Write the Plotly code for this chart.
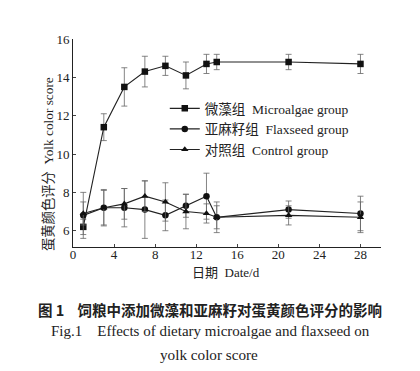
import plotly.graph_objects as go

days = [1, 3, 5, 7, 9, 11, 13, 14, 21, 28]

microalgae = [6.2, 11.4, 13.5, 14.3, 14.6, 14.1, 14.7, 14.8, 14.8, 14.7]
microalgae_err = [0.4, 0.7, 1.0, 0.8, 0.5, 0.7, 0.5, 0.4, 0.4, 0.5]

flaxseed = [6.8, 7.2, 7.2, 7.1, 6.8, 7.3, 7.8, 6.7, 7.1, 6.9]
flaxseed_err = [1.2, 0.95, 1.0, 1.5, 0.8, 0.6, 1.2, 0.6, 0.45, 0.9]

control = [6.9, 7.2, 7.4, 7.8, 7.5, 7.0, 6.9, 6.7, 6.8, 6.7]
control_err = [0.6, 0.9, 0.8, 0.8, 1.0, 0.9, 0.5, 0.8, 0.5, 0.8]

names = ["微藻组  Microalgae group", "亚麻籽组  Flaxseed group", "对照组  Control group"]
symbols = ["square", "circle", "triangle-up"]

x_ticks = [0, 4, 8, 12, 16, 20, 24, 28]
y_ticks = [6, 8, 10, 12, 14, 16]

FONT = "Liberation Serif, Noto Sans CJK SC, serif"

fig = go.Figure()
for vals, errs, name, sym in zip([microalgae, flaxseed, control],
                                 [microalgae_err, flaxseed_err, control_err],
                                 names, symbols):
    fig.add_trace(go.Scatter(
        x=days, y=vals, name=name, mode="lines+markers",
        line=dict(color="#222222", width=1.1),
        marker=dict(symbol=sym, size=6.5, color="#111111"),
        error_y=dict(type="data", array=errs, visible=True,
                     color="#666666", thickness=0.8, width=3),
    ))

fig.update_layout(
    width=420, height=371,
    margin=dict(l=65, r=47, t=31, b=132),
    paper_bgcolor="white", plot_bgcolor="white",
    font=dict(family=FONT, size=13, color="#222222"),
    showlegend=True,
    legend=dict(x=0.298, y=0.74, xanchor="left", yanchor="top",
                bgcolor="rgba(0,0,0,0)", font=dict(size=13.5, family=FONT),
                itemwidth=30, tracegroupgap=0),
    xaxis=dict(range=[0, 30], tickvals=x_ticks, ticks="inside", ticklen=3,
               ticklabelstandoff=-5,
               showline=True, linecolor="#222222", linewidth=1, showgrid=False,
               zeroline=False, tickfont=dict(size=13, family=FONT)),
    yaxis=dict(range=[5.15, 16], tickvals=y_ticks, ticks="inside", ticklen=3,
               showline=True, linecolor="#222222", linewidth=1, showgrid=False,
               zeroline=False, tickfont=dict(size=13, family=FONT)),
)

def py(p):
    return (239 - p) / 208.0

fig.add_annotation(text="日期  Date/d",
                   xref="paper", yref="paper", x=(218 - 65) / 308.0, y=py(264),
                   xanchor="center", yanchor="middle", showarrow=False,
                   font=dict(size=13, family=FONT))
fig.add_annotation(text="蛋黄颜色评分  Yolk color score", textangle=-90,
                   xref="paper", yref="paper", x=(40 - 65) / 308.0, y=py(156),
                   xanchor="center", yanchor="middle", showarrow=False,
                   font=dict(size=13.3, family=FONT))
fig.add_annotation(text="<b>图 1    饲粮中添加微藻和亚麻籽对蛋黄颜色评分的影响</b>",
                   xref="paper", yref="paper", x=(202 - 65) / 308.0, y=py(301),
                   xanchor="center", yanchor="middle", showarrow=False,
                   font=dict(size=14.5, family="Noto Sans CJK SC, Liberation Serif"))
fig.add_annotation(text="Fig.1    Effects of dietary microalgae and flaxseed on",
                   xref="paper", yref="paper", x=(202 - 65) / 308.0, y=py(323),
                   xanchor="center", yanchor="middle", showarrow=False,
                   font=dict(size=15, family=FONT))
fig.add_annotation(text="yolk color score",
                   xref="paper", yref="paper", x=(201 - 65) / 308.0, y=py(346),
                   xanchor="center", yanchor="middle", showarrow=False,
                   font=dict(size=15.2, family=FONT))

fig.write_html("out.html")
